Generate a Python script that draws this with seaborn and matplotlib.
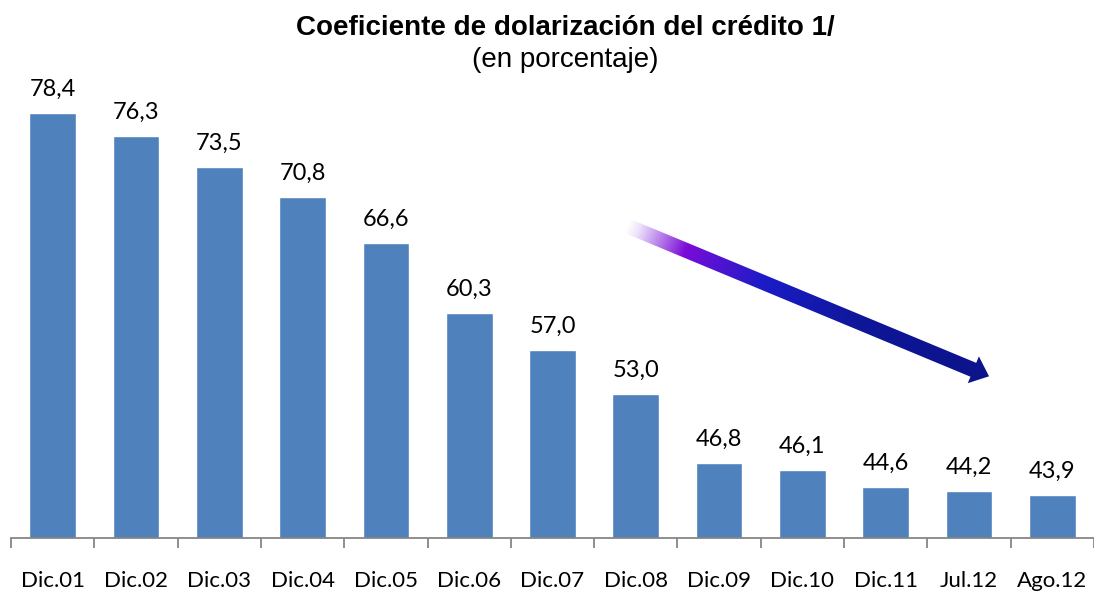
import numpy as np
import pandas as pd
import seaborn as sns
import matplotlib.pyplot as plt
from matplotlib.patches import Polygon
from matplotlib.colors import LinearSegmentedColormap

# datos
periodos = ["Dic.01", "Dic.02", "Dic.03", "Dic.04", "Dic.05", "Dic.06", "Dic.07",
            "Dic.08", "Dic.09", "Dic.10", "Dic.11", "Jul.12", "Ago.12"]
valores = [78.4, 76.3, 73.5, 70.8, 66.6, 60.3, 57.0, 53.0, 46.8, 46.1, 44.6, 44.2, 43.9]

# flecha de tendencia (posicion de categoria, valor)
flecha_ini = (6.89, 68.2)
flecha_fin = (11.24, 54.6)

df = pd.DataFrame({"periodo": periodos, "valor": valores})

sns.set_style("white")
plt.rcParams["font.family"] = ["Lato", "DejaVu Sans"]
plt.rcParams["text.color"] = "black"
plt.rcParams["xtick.color"] = "black"

fig = plt.figure(figsize=(10.94, 5.92), dpi=100)
ax = fig.add_axes([11 / 1094, 54 / 592, 1083 / 1094, 443 / 592])

sns.barplot(data=df, x="periodo", y="valor", color="#4F81BD", width=0.56,
            saturation=1, ax=ax)

ax.set_ylim(40, 80)
ax.set_xlim(-0.5, len(periodos) - 0.5)
ax.set_xlabel("")
ax.set_ylabel("")
ax.set_yticks([])
for s in ["top", "right", "left"]:
    ax.spines[s].set_visible(False)
ax.spines["bottom"].set_color("#868686")
ax.spines["bottom"].set_linewidth(1.3)

# etiquetas de valores
for i, v in enumerate(valores):
    ax.text(i, v + 1.2, f"{v:.1f}".replace(".", ","), ha="center", va="bottom",
            fontsize=17, color="black")

# ticks
ax.set_xticks(np.arange(len(periodos) + 1) - 0.5, minor=True)
ax.tick_params(axis="x", which="minor", length=7, width=1.3, color="#868686",
               direction="out", bottom=True)
ax.tick_params(axis="x", which="major", length=0, pad=24, labelsize=16)

# flecha con degradado (en pixeles)
p0 = ax.transData.transform(flecha_ini)
p1 = ax.transData.transform(flecha_fin)
u = (p1 - p0) / np.hypot(*(p1 - p0))
nrm = np.array([-u[1], u[0]])
w, hw, hl = 7.5, 14.5, 17
b = p1 - u * hl
pts = np.array([p0 + nrm * w, b + nrm * w, b + nrm * hw, p1,
                b - nrm * hw, b - nrm * w, p0 - nrm * w])

ov = fig.add_axes([0, 0, 1, 1], zorder=5)
ov.set_xlim(0, 1094)
ov.set_ylim(0, 592)
ov.axis("off")
ov.patch.set_alpha(0)

cmap = LinearSegmentedColormap.from_list(
    "flecha", [(0.0, "#FFFFFF"), (0.03, "#EDE2FA"), (0.16, "#7A0CD8"),
               (0.38, "#1A1CC6"), (0.65, "#0F1698"), (1.0, "#0C138A")])
xmin, ymin = pts.min(axis=0) - 2
xmax, ymax = pts.max(axis=0) + 2
gx, gy = np.meshgrid(np.linspace(xmin, xmax, 500), np.linspace(ymin, ymax, 250))
t = ((gx - p0[0]) * u[0] + (gy - p0[1]) * u[1]) / np.hypot(*(p1 - p0))
t = np.clip(t, 0, 1)
img = ov.imshow(cmap(t), extent=[xmin, xmax, ymin, ymax], origin="lower",
                aspect="auto", interpolation="bilinear")
poly = Polygon(pts, closed=True, facecolor="none", edgecolor="none")
ov.add_patch(poly)
img.set_clip_path(poly)

fig.text(0.517, 0.953, "Coeficiente de dolarización del crédito 1/", ha="center",
         va="center", fontsize=20, fontweight="bold", family="Liberation Sans")
fig.text(0.517, 0.899, "(en porcentaje)", ha="center", va="center", fontsize=20,
         family="Liberation Sans")

fig.savefig("out.png", dpi=100)
